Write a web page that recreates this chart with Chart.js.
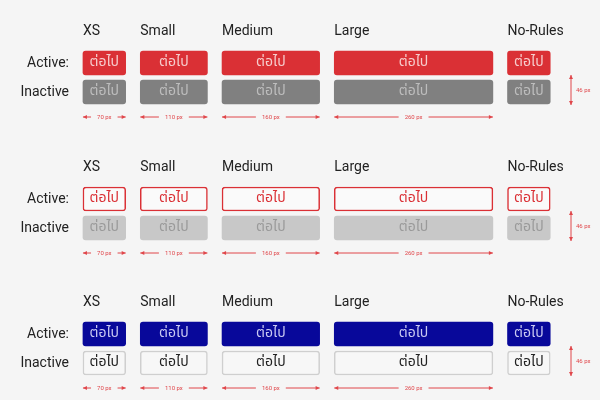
<!DOCTYPE html>
<html>
<head>
<meta charset="utf-8">
<script src="https://cdn.jsdelivr.net/npm/chart.js@4/dist/chart.umd.min.js"></script>
<style>
  body { margin: 0; background: #f5f5f5; }
  #wrap { width: 600px; height: 400px; }
</style>
</head>
<body>
<div id="wrap"><canvas id="buttonChart"></canvas></div>
<script>
// Button spec data
const sizes = ['XS', 'Small', 'Medium', 'Large', 'No-Rules'];
const widths = [70, 110, 160, 260, 70];
const widthLabels = ['70 px', '110 px', '160 px', '260 px'];
const states = ['Active:', 'Inactive'];
const buttonText = 'ต่อไป';
const heightLabel = '46 px';

// Layout (design px -> screen via x scale)
const SCALE = 0.61;
const startX = 136, gap = 24;
const groupTop = [63, 199, 334];
const rowGap = 29;

const themes = [
  { active: { bg: '#da3035', border: '#da3035', text: '#f6cccc' },
    inactive: { bg: '#808080', border: '#808080', text: '#bdbdbd' } },
  { active: { bg: '#fafafa', border: '#da3035', text: '#da3035' },
    inactive: { bg: '#c8c8c8', border: '#c8c8c8', text: '#9a9a9a' } },
  { active: { bg: '#08089a', border: '#08089a', text: '#c9c9f2' },
    inactive: { bg: '#f7f7f7', border: '#cfcfcf', text: '#222222' } }
];

// column ranges from widths
const ranges = [];
let cur = startX;
widths.forEach(function (w) { ranges.push([cur, cur + w]); cur += w + gap; });

const datasets = [];
themes.forEach(function (t, g) {
  ['active', 'inactive'].forEach(function (s, r) {
    datasets.push({
      label: 'g' + g + s,
      data: ranges.map(function (rg) { return { x: rg, y: groupTop[g] + r * rowGap }; }),
      backgroundColor: t[s].bg,
      borderColor: t[s].border,
      borderWidth: t[s].border === t[s].bg ? 0 : 1.5,
      borderSkipped: false,
      borderRadius: 3,
      barThickness: 24,
      grouped: false,
      textColor: t[s].text
    });
  });
});

const red = '#e0474b';

const decor = {
  id: 'decor',
  beforeDraw: function (chart) {
    const c = chart.ctx;
    c.save();
    c.fillStyle = '#f5f5f5';
    c.fillRect(0, 0, chart.width, chart.height);
    c.restore();
  },
  afterDatasetsDraw: function (chart) {
    const c = chart.ctx, xs = chart.scales.x, ys = chart.scales.y;
    c.save();
    // button text
    chart.data.datasets.forEach(function (ds, i) {
      chart.getDatasetMeta(i).data.forEach(function (bar) {
        const p = bar.getProps(['x', 'base', 'y']);
        c.fillStyle = ds.textColor;
        c.font = '14px "Noto Sans Thai", "Noto Sans", "DejaVu Sans", sans-serif';
        c.textAlign = 'center'; c.textBaseline = 'middle';
        c.fillText(buttonText, (p.x + p.base) / 2, p.y);
      });
    });
    groupTop.forEach(function (gy) {
      // headers
      c.fillStyle = '#222'; c.font = '14px Roboto, sans-serif';
      c.textAlign = 'left'; c.textBaseline = 'middle';
      sizes.forEach(function (s, k) { c.fillText(s, xs.getPixelForValue(ranges[k][0]), ys.getPixelForValue(gy - 32)); });
      // row labels
      c.textAlign = 'right';
      states.forEach(function (s, r) { c.fillText(s, 69, ys.getPixelForValue(gy + r * rowGap)); });
      // width dimension arrows
      c.strokeStyle = red; c.fillStyle = red; c.lineWidth = 1;
      c.font = '6px Roboto, sans-serif'; c.textAlign = 'center';
      const ay = ys.getPixelForValue(gy + 54);
      widthLabels.forEach(function (lab, k) {
        const x0 = xs.getPixelForValue(ranges[k][0]), x1 = xs.getPixelForValue(ranges[k][1]);
        const mid = (x0 + x1) / 2, half = c.measureText(lab).width / 2 + 6;
        c.beginPath(); c.moveTo(x0, ay); c.lineTo(mid - half, ay);
        c.moveTo(mid + half, ay); c.lineTo(x1, ay); c.stroke();
        [[x0, 1], [x1, -1]].forEach(function (a) {
          c.beginPath(); c.moveTo(a[0], ay); c.lineTo(a[0] + 4 * a[1], ay - 2);
          c.lineTo(a[0] + 4 * a[1], ay + 2); c.closePath(); c.fill();
        });
        c.fillText(lab, mid, ay);
      });
      // height dimension arrow
      const vx = 571, y0 = ys.getPixelForValue(gy + rowGap - 17), y1 = ys.getPixelForValue(gy + rowGap + 13);
      c.beginPath(); c.moveTo(vx, y0); c.lineTo(vx, y1); c.stroke();
      [[y0, 1], [y1, -1]].forEach(function (a) {
        c.beginPath(); c.moveTo(vx, a[0]); c.lineTo(vx - 2, a[0] + 4 * a[1]);
        c.lineTo(vx + 2, a[0] + 4 * a[1]); c.closePath(); c.fill();
      });
      c.textAlign = 'left';
      c.fillText(heightLabel, 576, (y0 + y1) / 2);
    });
    c.restore();
  }
};

new Chart(document.getElementById('buttonChart'), {
  type: 'bar',
  data: { datasets: datasets },
  options: {
    indexAxis: 'y',
    responsive: true,
    maintainAspectRatio: false,
    animation: false,
    layout: { padding: 0 },
    plugins: { legend: { display: false }, tooltip: { enabled: false } },
    scales: {
      x: { type: 'linear', display: false, min: 0, max: 600 / SCALE, offset: false },
      y: { type: 'linear', display: false, min: 0, max: 400, reverse: true, offset: false }
    }
  },
  plugins: [decor]
});
</script>
</body>
</html>
